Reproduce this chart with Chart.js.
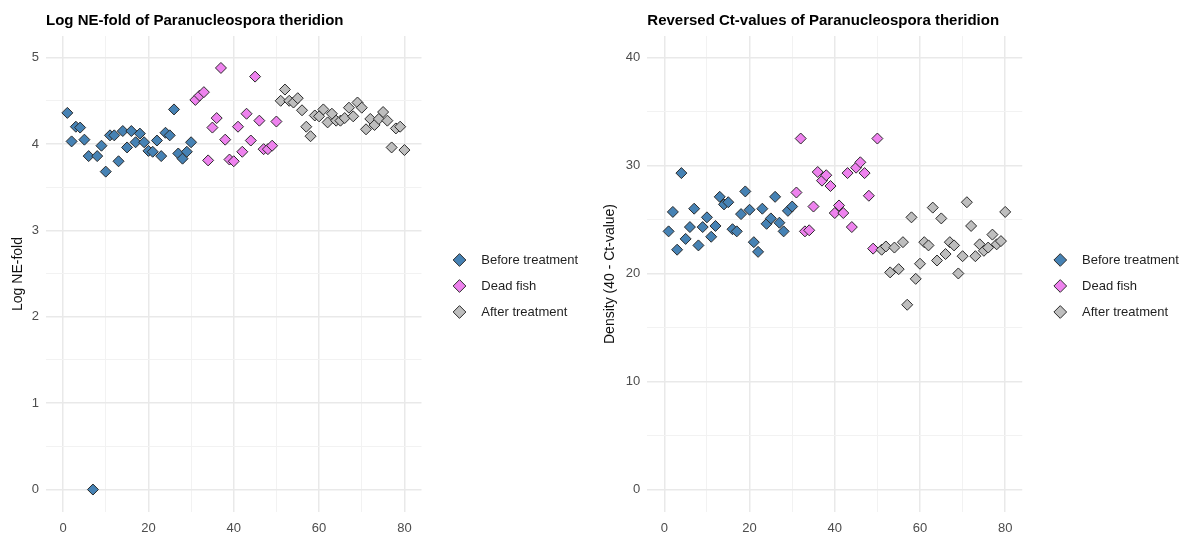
<!DOCTYPE html>
<html>
<head>
<meta charset="utf-8">
<script src="https://cdn.jsdelivr.net/npm/chart.js@4"></script>
<style>
  html, body { margin: 0; padding: 0; background: #fff; }
  body { width: 1189px; height: 536px; position: relative; overflow: hidden; }
  canvas { position: absolute; top: 0; }
  #chartNE { left: 0; }
  #chartCt { left: 597px; }
</style>
</head>
<body>
<canvas id="chartNE" width="595" height="536"></canvas>
<canvas id="chartCt" width="592" height="536"></canvas>
<script>
/* ── Data ── */
const groups = ['Before treatment', 'Dead fish', 'After treatment'];
const fills  = ['#4682B4', '#EE82EE', '#BEBEBE'];

const beforeIdx = [1, 2, 3, 4, 5, 6, 7, 8, 9, 10, 11, 12, 13, 14, 15, 16, 17, 18, 19, 20, 21, 22, 23, 24, 25, 26, 27, 28, 29, 30];
const deadIdx   = [31, 32, 33, 34, 35, 36, 37, 38, 39, 40, 41, 42, 43, 44, 45, 46, 47, 48, 49, 50];
const afterIdx  = [51, 52, 53, 54, 55, 56, 57, 58, 59, 60, 61, 62, 63, 64, 65, 66, 67, 68, 69, 70, 71, 72, 73, 74, 75, 76, 77, 78, 79, 80];

const beforeNE = [4.36, 4.03, 4.20, 4.19, 4.05, 3.86, 0.00, 3.86, 3.98, 3.68, 4.10, 4.10, 3.80, 4.15, 3.96,
                  4.15, 4.02, 4.12, 4.02, 3.92, 3.91, 4.04, 3.86, 4.13, 4.10, 4.40, 3.89, 3.83, 3.91, 4.02];
const deadNE   = [4.51, 4.56, 4.60, 3.81, 4.19, 4.30, 4.88, 4.05, 3.82, 3.80, 4.20, 3.91, 4.35, 4.04, 4.78,
                  4.27, 3.94, 3.94, 3.98, 4.26];
const afterNE  = [4.50, 4.63, 4.50, 4.48, 4.53, 4.39, 4.20, 4.09, 4.33, 4.32, 4.40, 4.25, 4.35, 4.27, 4.27,
                  4.30, 4.42, 4.32, 4.48, 4.42, 4.17, 4.29, 4.22, 4.29, 4.37, 4.27, 3.96, 4.18, 4.20, 3.93];

const beforeCt = [23.9, 25.7, 22.2, 29.3, 23.2, 24.3, 26.0, 22.6, 24.3, 25.2, 23.4, 24.4, 27.1, 26.4, 26.6,
                  24.1, 23.9, 25.5, 27.6, 25.9, 22.9, 22.0, 26.0, 24.6, 25.1, 27.1, 24.7, 23.9, 25.8, 26.2];
const deadCt   = [27.5, 32.5, 23.9, 24.0, 26.2, 29.4, 28.6, 29.1, 28.1, 25.6, 26.3, 25.6, 29.3, 24.3, 29.8,
                  30.3, 29.3, 27.2, 22.3, 32.5];
const afterCt  = [22.2, 22.5, 20.1, 22.4, 20.4, 22.9, 17.1, 25.2, 19.5, 20.9, 22.9, 22.6, 26.1, 21.2, 25.1,
                  21.8, 22.9, 22.6, 20.0, 21.6, 26.6, 24.4, 21.6, 22.7, 22.1, 22.4, 23.6, 22.7, 23.0, 25.7];

const xTicks = [0, 20, 40, 60, 80];

/* ── Helpers ── */
Chart.defaults.font.family = "'Liberation Sans', Arial, Helvetica, sans-serif";
const tickCol  = '#4d4d4d';
const majorCol = '#e9e9e9', minorCol = '#f2f2f2';

const pts = (xs, ys) => xs.map((x, i) => ({ x: x, y: ys[i] }));

// moves the legend block away from the panel (ggplot-like spacing)
const legendNudge = {
  id: 'legendNudge',
  afterLayout(chart, args, opts) {
    const lg = chart.legend;
    lg.left += opts.dx; lg.right += opts.dx;
    lg.top  += opts.dy; lg.bottom += opts.dy;
  }
};

function dataset(i, xs, ys, order) {
  return {
    label: groups[i],
    data: pts(xs, ys),
    order: order,
    pointStyle: 'rectRot',
    pointRadius: 5.5,
    pointHoverRadius: 5.5,
    backgroundColor: fills[i],
    borderColor: '#2a2a2a',
    borderWidth: 1
  };
}

function makeChart(id, c) {
  new Chart(document.getElementById(id), {
    type: 'scatter',
    data: {
      datasets: [
        dataset(0, beforeIdx, c.before, 2),
        dataset(1, deadIdx, c.dead, 1),
        dataset(2, afterIdx, c.after, 0)
      ]
    },
    plugins: [legendNudge],
    options: {
      responsive: false,
      animation: false,
      layout: { padding: { left: 0, right: c.padRight, top: 0, bottom: 0 } },
      plugins: {
        title: {
          display: true, text: c.title, align: 'start', fullSize: false,
          color: '#000', font: { size: 15, weight: 'bold' }, padding: { top: 12, bottom: 6 }
        },
        legend: {
          position: 'right', align: 'center',
          labels: {
            usePointStyle: true, boxWidth: 9, boxHeight: 9, padding: 13,
            color: '#1f1f1f', font: { size: 13 },
            sort: (a, b) => a.datasetIndex - b.datasetIndex,
            generateLabels: ch => Chart.defaults.plugins.legend.labels.generateLabels(ch)
              .map(l => Object.assign(l, { text: '   ' + l.text }))
          }
        },
        legendNudge: { dx: 20.5, dy: 18 },
        tooltip: { enabled: false }
      },
      scales: {
        x: {
          type: 'linear', min: -4, max: 84,
          afterFit: s => { s.height = 24; },
          border: { display: false },
          grid: {
            drawTicks: false,
            color: t => xTicks.includes(t.tick.value) ? majorCol : minorCol,
            lineWidth: t => xTicks.includes(t.tick.value) ? 1.5 : 1
          },
          ticks: {
            stepSize: 10, includeBounds: false, autoSkip: false, maxRotation: 0,
            padding: 9, color: tickCol, font: { size: 13 },
            callback: v => xTicks.includes(v) ? v : ''
          }
        },
        y: {
          min: c.yMin, max: c.yMax,
          afterFit: s => { s.width = c.axisWidth; },
          border: { display: false },
          title: {
            display: true, text: c.yTitle, color: '#111', font: { size: 14 },
            padding: { top: c.titlePad, bottom: 0 }
          },
          grid: {
            drawTicks: false,
            color: t => c.yLabels.includes(t.tick.value) ? majorCol : minorCol,
            lineWidth: t => c.yLabels.includes(t.tick.value) ? 1.5 : 1
          },
          ticks: {
            stepSize: c.yStep, includeBounds: false, autoSkip: false,
            padding: 7, color: tickCol, font: { size: 13 },
            callback: v => c.yLabels.includes(v) ? v : ''
          }
        }
      }
    }
  });
}

/* ── Log NE-fold ── */
makeChart('chartNE', {
  title: 'Log NE-fold of Paranucleospora theridion',
  yTitle: 'Log NE-fold',
  before: beforeNE, dead: deadNE, after: afterNE,
  yMin: -0.26, yMax: 5.25, yStep: 0.5, yLabels: [0, 1, 2, 3, 4, 5],
  axisWidth: 46, titlePad: 10, padRight: 33
});

/* ── Reversed Ct-values ── */
makeChart('chartCt', {
  title: 'Reversed Ct-values of Paranucleospora theridion',
  yTitle: 'Density (40 - Ct-value)',
  before: beforeCt, dead: deadCt, after: afterCt,
  yMin: -2.1, yMax: 42, yStep: 5, yLabels: [0, 10, 20, 30, 40],
  axisWidth: 50.3, titlePad: 4.6, padRight: 25
});
</script>
</body>
</html>
